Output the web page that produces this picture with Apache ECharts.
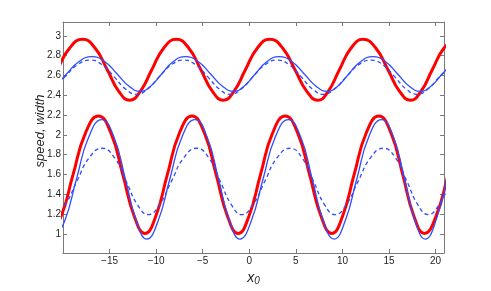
<!DOCTYPE html>
<html>
<head>
<meta charset="utf-8">
<script src="https://cdn.jsdelivr.net/npm/echarts@6/dist/echarts.min.js"></script>
<style>
html,body{margin:0;padding:0;background:#fff;}
#chart{width:491px;height:291px;}
</style>
</head>
<body>
<div id="chart"></div>
<script>
// Tick labels
const xTicks = [-15, -10, -5, 0, 5, 10, 15, 20];
const yTicks = [1, 1.2, 1.4, 1.6, 1.8, 2, 2.2, 2.4, 2.6, 2.8, 3];

// Upper group: red (thick), blue solid, blue dashed
const topRedX = [-23.1, -21.9, -20.62, -19.3, -17.9, -16.54, -15.25, -14.01, -12.85, -11.7, -10.47, -9.2, -7.85, -6.49, -5.2, -3.96, -2.8, -1.65, -0.42, 0.85, 2.2, 3.59, 4.9, 6.17, 7.35, 8.47, 9.67, 10.91, 12.22, 13.59, 14.88, 16.13, 17.3, 18.43, 19.64, 20.89, 22.22];
const topRedY = [2.35, 2.44, 2.658, 2.875, 2.965, 2.875, 2.658, 2.44, 2.35, 2.44, 2.658, 2.875, 2.965, 2.875, 2.658, 2.44, 2.35, 2.44, 2.658, 2.875, 2.965, 2.875, 2.658, 2.44, 2.35, 2.44, 2.658, 2.875, 2.965, 2.875, 2.658, 2.44, 2.35, 2.44, 2.658, 2.875, 2.965];

const topBlueX = [-22.1, -20.9, -19.62, -18.3, -16.9, -15.5, -14.19, -12.91, -11.72, -10.6, -9.41, -8.18, -6.87, -5.47, -4.16, -2.88, -1.69, -0.57, 0.64, 1.88, 3.2, 4.59, 5.9, 7.17, 8.35, 9.48, 10.68, 11.93, 13.25, 14.63, 15.92, 17.18, 18.35, 19.49, 20.71, 21.96];
const topBlueY = [2.44, 2.491, 2.615, 2.739, 2.79, 2.739, 2.615, 2.491, 2.44, 2.491, 2.615, 2.739, 2.79, 2.739, 2.615, 2.491, 2.44, 2.491, 2.615, 2.739, 2.79, 2.739, 2.615, 2.491, 2.44, 2.491, 2.615, 2.739, 2.79, 2.739, 2.615, 2.491, 2.44, 2.491, 2.615, 2.739];

const topDashX = [-22.3, -21.1, -19.82, -18.5, -17.1, -15.75, -14.48, -13.25, -12.1, -10.94, -9.7, -8.41, -7.05, -5.7, -4.43, -3.2, -2.05, -0.89, 0.35, 1.64, 3.0, 4.34, 5.59, 6.81, 7.95, 9.12, 10.38, 11.67, 13.05, 14.39, 15.64, 16.86, 18.0, 19.15, 20.38, 21.65];
const topDashY = [2.41, 2.461, 2.583, 2.704, 2.755, 2.704, 2.583, 2.461, 2.41, 2.461, 2.583, 2.704, 2.755, 2.704, 2.583, 2.461, 2.41, 2.461, 2.583, 2.704, 2.755, 2.704, 2.583, 2.461, 2.41, 2.461, 2.583, 2.704, 2.755, 2.704, 2.583, 2.461, 2.41, 2.461, 2.583, 2.704];

// Lower group: red (thick), blue solid, blue dashed
const lowRedX = [-21.4, -20.2, -18.92, -17.6, -16.2, -14.85, -13.58, -12.35, -11.2, -10.04, -8.8, -7.51, -6.15, -4.81, -3.56, -2.34, -1.2, -0.04, 1.2, 2.49, 3.85, 5.2, 6.47, 7.7, 8.85, 10.01, 11.25, 12.54, 13.9, 15.22, 16.47, 17.67, 18.8, 20.05, 21.35, 22.65];
const lowRedY = [1.005, 1.179, 1.598, 2.016, 2.19, 2.016, 1.598, 1.179, 1.005, 1.179, 1.598, 2.016, 2.19, 2.016, 1.598, 1.179, 1.005, 1.179, 1.598, 2.016, 2.19, 2.016, 1.598, 1.179, 1.005, 1.179, 1.598, 2.016, 2.19, 2.016, 1.598, 1.179, 1.005, 1.179, 1.598, 2.016];

const lowBlueX = [-21.04, -19.84, -18.56, -17.24, -15.84, -14.53, -13.3, -12.11, -11.0, -9.81, -8.54, -7.23, -5.83, -4.53, -3.3, -2.11, -1.0, 0.19, 1.47, 2.79, 4.19, 5.52, 6.76, 7.97, 9.1, 10.27, 11.53, 12.82, 14.2, 15.47, 16.66, 17.82, 18.9, 20.0, 21.18];
const lowBlueY = [0.948, 1.125, 1.552, 1.978, 2.155, 1.978, 1.552, 1.125, 0.948, 1.125, 1.552, 1.978, 2.155, 1.978, 1.552, 1.125, 0.948, 1.125, 1.552, 1.978, 2.155, 1.978, 1.552, 1.125, 0.948, 1.125, 1.552, 1.978, 2.155, 1.978, 1.552, 1.125, 0.948, 1.125, 1.552];

const lowDashX = [-21.0, -19.8, -18.52, -17.2, -15.8, -14.46, -13.21, -11.99, -10.85, -9.65, -8.37, -7.05, -5.65, -4.34, -3.11, -1.92, -0.8, 0.39, 1.66, 2.97, 4.37, 5.67, 6.9, 8.09, 9.2, 10.4, 11.68, 13.0, 14.4, 15.7, 16.92, 18.1, 19.2, 20.35, 21.58];
const lowDashY = [1.195, 1.293, 1.53, 1.767, 1.865, 1.767, 1.53, 1.293, 1.195, 1.293, 1.53, 1.767, 1.865, 1.767, 1.53, 1.293, 1.195, 1.293, 1.53, 1.767, 1.865, 1.767, 1.53, 1.293, 1.195, 1.293, 1.53, 1.767, 1.865, 1.767, 1.53, 1.293, 1.195, 1.293, 1.53];

const pairs = (xs, ys) => xs.map((x, i) => [x, ys[i]]);

const RED = '#ff0000';
const BLUE = '#2f4cff';
const AXIS = '#7a7a7a';
const TXT = '#1e1e1e';
const FONT = '"Liberation Sans", Arial, Helvetica, sans-serif';

const chart = echarts.init(document.getElementById('chart'), null, {renderer: 'canvas'});

const fmtNum = v => String(+(+v).toFixed(1)).replace('-', '\u2212');

const commonX = {
  type: 'value', min: -20, max: 20.9,
  axisLine: {show: true, onZero: false, lineStyle: {color: AXIS, width: 1}},
  splitLine: {show: false},
  axisTick: {show: true, inside: true, length: 4, lineStyle: {color: AXIS}, customValues: xTicks}
};
const commonY = {
  type: 'value', min: 0.807, max: 3.14,
  axisLine: {show: true, onZero: false, lineStyle: {color: AXIS, width: 1}},
  splitLine: {show: false},
  axisTick: {show: true, inside: true, length: 4, lineStyle: {color: AXIS}, customValues: yTicks}
};

const lineSeries = (name, xs, ys, color, width, type) => ({
  name, type: 'line', data: pairs(xs, ys), smooth: 0.5, showSymbol: false, symbol: 'none',
  clip: true, animation: false,
  lineStyle: {color, width, type: type || 'solid'}
});

chart.setOption({
  animation: false,
  grid: {left: 63, top: 22, width: 381, height: 236.5, containLabel: false},
  xAxis: [
    Object.assign({}, commonX, {
      position: 'bottom',
      axisLabel: {show: true, customValues: xTicks, formatter: fmtNum, color: TXT, fontSize: 10, fontFamily: FONT, margin: 3},
      name: '{i|x}{s|0}', nameLocation: 'middle', nameGap: 17,
      nameTextStyle: {rich: {
        i: {fontStyle: 'italic', fontSize: 14, fontFamily: FONT, color: TXT},
        s: {fontStyle: 'italic', fontSize: 10, fontFamily: FONT, color: TXT, verticalAlign: 'bottom', padding: [6, 0, 0, 0]}
      }}
    }),
    Object.assign({}, commonX, {position: 'top', axisLabel: {show: false}})
  ],
  yAxis: [
    Object.assign({}, commonY, {
      position: 'left',
      axisLabel: {show: true, customValues: yTicks, formatter: fmtNum, color: TXT, fontSize: 10, fontFamily: FONT, margin: 2}
    }),
    Object.assign({}, commonY, {position: 'right', axisLabel: {show: false}})
  ],
  graphic: [{
    type: 'text', x: 40, y: 131, rotation: Math.PI / 2,
    style: {text: 'speed, width', font: 'italic 13px ' + FONT, fill: TXT, textAlign: 'center', textVerticalAlign: 'middle'}
  }],
  series: [
    lineSeries('speed upper', topRedX, topRedY, RED, 3),
    lineSeries('width upper', topBlueX, topBlueY, BLUE, 1.3),
    lineSeries('width upper dashed', topDashX, topDashY, BLUE, 1.3, [4, 3]),
    lineSeries('speed lower', lowRedX, lowRedY, RED, 3),
    lineSeries('width lower', lowBlueX, lowBlueY, BLUE, 1.3),
    lineSeries('width lower dashed', lowDashX, lowDashY, BLUE, 1.3, [4, 3])
  ]
});
</script>
</body>
</html>
